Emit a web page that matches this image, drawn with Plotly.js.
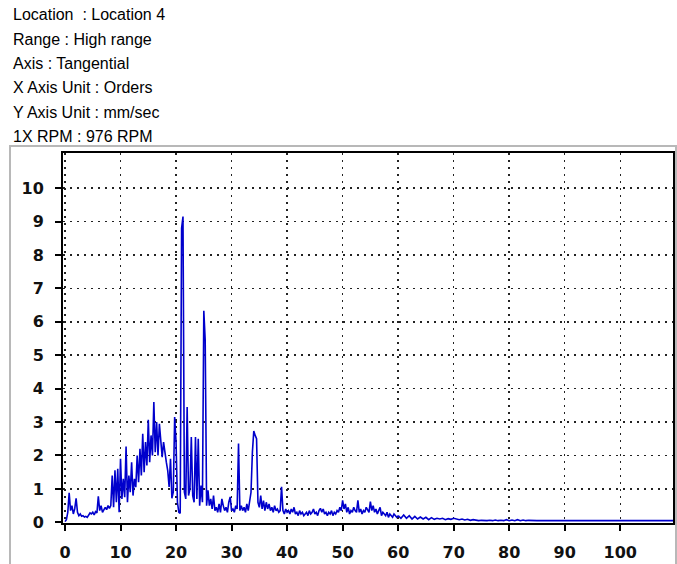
<!DOCTYPE html>
<html>
<head>
<meta charset="utf-8">
<script src="https://cdn.plot.ly/plotly-3.0.1.min.js"></script>
<style>html,body{margin:0;padding:0;background:#fff;}#chart{width:677px;height:564px;}</style>
</head>
<body>
<div id="chart"></div>
<script>
// Header info lines
const headerLines = [
  "Location \u00a0: Location 4",
  "Range : High range",
  "Axis : Tangential",
  "X Axis Unit : Orders",
  "Y Axis Unit : mm/sec",
  "1X RPM : 976 RPM"
];

// Spectrum amplitude (mm/sec), bins of 0.25 order from 0 to 60
const orderStartLow = 0;
const orderStepLow = 0.25;
const ampLow = [
  0.02,0.08,0.30,0.88,
  0.35,0.50,0.25,0.40,
  0.72,0.30,0.20,0.25,
  0.18,0.20,0.16,0.18,
  0.15,0.20,0.28,0.25,
  0.30,0.22,0.32,0.28,
  0.78,0.35,0.50,0.30,
  0.40,0.45,0.38,0.50,
  0.42,0.50,1.40,0.45,
  1.56,0.60,1.60,0.30,
  1.90,0.70,1.30,0.75,
  2.27,0.60,1.40,0.90,
  1.80,0.80,1.30,1.05,
  2.00,1.20,2.20,1.40,
  2.65,1.50,2.40,1.70,
  3.07,1.80,2.60,2.00,
  3.60,2.10,3.00,2.00,
  2.95,2.30,1.95,2.40,
  2.00,1.80,1.55,1.06,
  1.90,0.72,0.90,3.15,
  2.40,0.60,0.30,0.27,
  8.80,9.15,0.90,0.70,
  3.45,0.80,1.00,2.55,
  0.80,0.60,2.55,0.70,
  2.50,0.50,1.10,0.60,
  6.33,5.45,0.50,0.96,
  0.50,0.70,0.40,0.80,
  0.35,0.45,0.30,0.55,
  0.30,0.70,0.50,0.35,
  0.45,0.30,0.60,0.76,
  0.35,0.40,0.30,0.50,
  0.40,2.36,0.35,0.50,
  0.35,0.45,0.30,0.55,
  0.35,0.60,0.90,2.10,
  2.73,2.60,2.50,0.60,
  0.45,0.80,0.40,0.65,
  0.35,0.60,0.40,0.55,
  0.35,0.45,0.30,0.50,
  0.35,0.40,0.30,0.35,
  1.06,0.35,0.25,0.40,
  0.30,0.35,0.25,0.40,
  0.30,0.45,0.25,0.30,
  0.20,0.35,0.25,0.30,
  0.20,0.25,0.30,0.20,
  0.35,0.25,0.30,0.40,
  0.25,0.30,0.20,0.35,
  0.42,0.30,0.40,0.25,
  0.30,0.20,0.30,0.25,
  0.35,0.20,0.30,0.25,
  0.35,0.30,0.45,0.35,
  0.66,0.40,0.55,0.30,
  0.45,0.25,0.35,0.30,
  0.45,0.35,0.30,0.66,
  0.30,0.40,0.25,0.35,
  0.30,0.45,0.35,0.30,
  0.62,0.35,0.50,0.30,
  0.40,0.25,0.35,0.45,
  0.20,0.30,0.25,0.20,
  0.30,0.15,0.25,0.20,
  0.15,0.25,0.20,0.15,
  0.20
];

// Spectrum amplitude (mm/sec), bins of 0.5 order from 60 upward
const orderStartHigh = 60;
const orderStepHigh = 0.5;
const ampHigh = [
  0.20,0.12,0.22,0.12,0.20,0.10,0.18,0.10,0.16,0.10,
  0.15,0.08,0.14,0.09,0.12,0.10,0.12,0.08,0.11,0.09,
  0.12,0.10,0.08,0.10,0.07,0.09,0.06,0.08,0.06,0.05,
  0.06,0.05,0.05,0.06,0.05,0.07,0.05,0.06,0.05,0.08,
  0.05,0.07,0.05,0.08,0.05,0.07,0.05,0.06,0.05,0.06,
  0.05,0.05,0.06,0.05,0.05,0.05,0.07,0.05,0.05,0.05,
  0.05,0.05,0.05,0.05,0.05,0.05,0.05,0.05,0.05,0.05,
  0.05,0.05,0.05,0.05,0.05,0.05,0.05,0.05,0.05,0.05,
  0.05,0.05,0.05,0.05,0.05,0.05,0.05,0.05,0.05,0.05,
  0.05,0.05,0.05,0.05,0.05,0.05,0.05,0.05,0.05,0.05
];

const xTickVals = [0,10,20,30,40,50,60,70,80,90,100];
const xTickText = ["0","10","20","30","40","50","60","70","80","90","100"];
const yTickVals = [0,1,2,3,4,5,6,7,8,9,10];
const yTickText = ["0","1","2","3","4","5","6","7","8","9","10"];

const lineStyle = {color: '#0000cc', width: 1.6};
const traces = [
  {type: 'scatter', mode: 'lines', x0: orderStartLow, dx: orderStepLow, y: ampLow, line: lineStyle, hoverinfo: 'skip'},
  {type: 'scatter', mode: 'lines', x0: orderStartHigh, dx: orderStepHigh, y: ampHigh, line: lineStyle, hoverinfo: 'skip'}
];

// Layout in pixels
const W = 677, H = 564;
const L = 63, R = 673, T = 153, B = 523;
const pw = R - L, ph = B - T;
const px2paperX = x => (x - L) / pw;
const px2paperY = y => (B - y) / ph;

const headerY = [14, 39, 63, 87, 112, 136];
const annotations = headerLines.map((t, i) => ({
  text: t, xref: 'paper', yref: 'paper',
  x: px2paperX(11), y: px2paperY(headerY[i]),
  xanchor: 'left', yanchor: 'middle', showarrow: false,
  font: {family: 'Liberation Sans, Arial, sans-serif', size: 16, color: '#000'}
}));

const tickFont = {family: 'DejaVu Sans, Verdana, sans-serif', size: 16, color: '#111', weight: 'bold'};

const layout = {
  width: W, height: H,
  margin: {l: L, r: W - R, t: T, b: H - B, pad: 0},
  paper_bgcolor: '#fff', plot_bgcolor: '#fff',
  showlegend: false,
  xaxis: {
    range: [-0.36, 109.5], tickmode: 'array', tickvals: xTickVals, ticktext: xTickText,
    showgrid: true, gridcolor: '#222', gridwidth: 1.5, griddash: '2px,5px',
    zeroline: false, showline: true, linecolor: '#000', linewidth: 2, mirror: true,
    ticks: 'outside', ticklen: 6, tickwidth: 2, tickcolor: '#000',
    tickfont: tickFont, ticklabelstandoff: 8
  },
  yaxis: {
    range: [-0.02, 11.05], tickmode: 'array', tickvals: yTickVals, ticktext: yTickText,
    showgrid: true, gridcolor: '#222', gridwidth: 1.5, griddash: '2px,5px',
    zeroline: false, showline: true, linecolor: '#000', linewidth: 2, mirror: true,
    ticks: 'outside', ticklen: 6, tickwidth: 2, tickcolor: '#000',
    tickfont: tickFont, ticklabelstandoff: 8
  },
  annotations: annotations,
  shapes: [{
    type: 'rect', xref: 'paper', yref: 'paper', layer: 'below',
    x0: px2paperX(10), x1: px2paperX(676), y0: px2paperY(570), y1: px2paperY(146),
    line: {color: '#b8b8b8', width: 2}, fillcolor: 'rgba(0,0,0,0)'
  }]
};

Plotly.newPlot('chart', traces, layout, {staticPlot: true, displayModeBar: false});
</script>
</body>
</html>
